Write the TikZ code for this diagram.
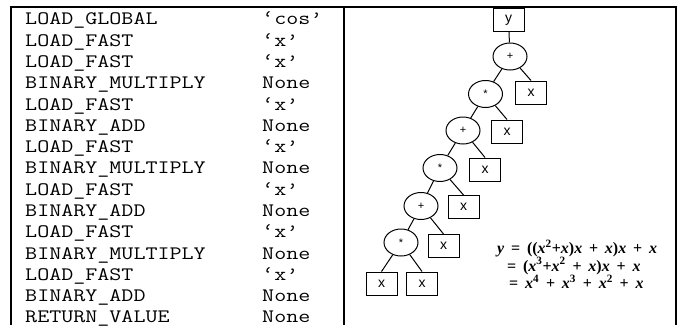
\documentclass[tikz,border=0pt]{standalone}
\usepackage{fontspec}
\newfontfamily\arialfont{Liberation Sans}
\newfontfamily\eqfont{Liberation Serif}[WordSpace=1.7]
\usetikzlibrary{shapes.geometric}
\newcommand{\vx}{\textit{x}}
\newcommand{\sq}[1]{\textsuperscript{#1}}
\begin{document}
\begin{tikzpicture}[x=1pt,y=-1pt,
  tableline/.style={line width=1.1pt},
  opnode/.style={ellipse, draw, line width=1pt, minimum width=34pt, minimum height=27pt, inner sep=0pt, font=\arialfont\fontsize{11}{11}\selectfont},
  leaf/.style={rectangle, draw, line width=1pt, minimum width=31pt, minimum height=23pt, inner sep=0pt, font=\arialfont\fontsize{14}{14}\selectfont},
  conn/.style={line width=1pt},
  codetext/.style={anchor=base west, inner sep=0pt, font=\ttfamily\fontsize{19}{19}\selectfont, transform shape},
  eqtext/.style={anchor=base west, inner sep=0pt, font=\eqfont\fontsize{16}{16}\selectfont\bfseries}
]
\useasboundingbox (0,0) rectangle (678,325);
% table frame
\draw[tableline] (11,325) -- (11,7) -- (676,7) -- (676,325);
\draw[tableline] (344,7) -- (344,325);
% code listing
\begin{scope}[xscale=1.23]
\node[codetext] (op1)  at (20.3,24.8)  {LOAD\_GLOBAL};
\node[codetext] (op2)  at (20.3,46.1)  {LOAD\_FAST};
\node[codetext] (op3)  at (20.3,67.4)  {LOAD\_FAST};
\node[codetext] (op4)  at (20.3,88.7)  {BINARY\_MULTIPLY};
\node[codetext] (op5)  at (20.3,110.0) {LOAD\_FAST};
\node[codetext] (op6)  at (20.3,131.3) {BINARY\_ADD};
\node[codetext] (op7)  at (20.3,152.6) {LOAD\_FAST};
\node[codetext] (op8)  at (20.3,173.9) {BINARY\_MULTIPLY};
\node[codetext] (op9)  at (20.3,195.2) {LOAD\_FAST};
\node[codetext] (op10) at (20.3,216.5) {BINARY\_ADD};
\node[codetext] (op11) at (20.3,237.8) {LOAD\_FAST};
\node[codetext] (op12) at (20.3,259.1) {BINARY\_MULTIPLY};
\node[codetext] (op13) at (20.3,280.4) {LOAD\_FAST};
\node[codetext] (op14) at (20.3,301.7) {BINARY\_ADD};
\node[codetext] (op15) at (20.3,322) {RETURN\_VALUE};
\node[codetext] (arg1)  at (213,24.8)  {‘cos’};
\node[codetext] (arg2)  at (213,46.1)  {‘x’};
\node[codetext] (arg3)  at (213,67.4)  {‘x’};
\node[codetext] (arg4)  at (213,88.7)  {None};
\node[codetext] (arg5)  at (213,110.0) {‘x’};
\node[codetext] (arg6)  at (213,131.3) {None};
\node[codetext] (arg7)  at (213,152.6) {‘x’};
\node[codetext] (arg8)  at (213,173.9) {None};
\node[codetext] (arg9)  at (213,195.2) {‘x’};
\node[codetext] (arg10) at (213,216.5) {None};
\node[codetext] (arg11) at (213,237.8) {‘x’};
\node[codetext] (arg12) at (213,259.1) {None};
\node[codetext] (arg13) at (213,280.4) {‘x’};
\node[codetext] (arg14) at (213,301.7) {None};
\node[codetext] (arg15) at (213,322) {None};
\end{scope}
% expression tree
\node[leaf]   (Y)  at (508.5,20)  {y};
\node[opnode] (P1) at (510,56.5)  {+};
\node[leaf]   (X1) at (531,92.5)  {x};
\node[opnode] (M1) at (485.5,94)  {*};
\node[leaf]   (X2) at (507,131.5) {x};
\node[opnode] (P2) at (463,130.5) {+};
\node[leaf]   (X3) at (485,169.5) {x};
\node[opnode] (M2) at (440,168)   {*};
\node[leaf]   (X4) at (463.5,207) {x};
\node[opnode] (P3) at (421,206)   {+};
\node[leaf]   (X5) at (443.5,246) {x};
\node[opnode] (M3) at (401,242.5) {*};
\node[leaf]   (X6) at (381.5,283.5) {x};
\node[leaf]   (X7) at (422,283.5) {x};
\draw[conn] (Y) -- (P1);
\draw[conn] (P1) -- (M1);
\draw[conn] (P1) -- (X1.north);
\draw[conn] (M1) -- (P2);
\draw[conn] (M1) -- (X2.north);
\draw[conn] (P2) -- (M2);
\draw[conn] (P2) -- (X3.north);
\draw[conn] (M2) -- (P3);
\draw[conn] (M2) -- (X4.north);
\draw[conn] (P3) -- (M3);
\draw[conn] (P3) -- (X5.north);
\draw[conn] (M3) -- (X6.north);
\draw[conn] (M3) -- (X7.north);
% equation
\node[eqtext] (eqa) at (497,253.5) {\textit{y} = ((\vx\sq{2}+\vx)\vx{} + \vx)\vx{} + \vx};
\node[eqtext] (eqb) at (507,271) {= (\vx\sq{3}+\vx\sq{2} + \vx)\vx{} + \vx};
\node[eqtext] (eqc) at (509,288.5) {= \vx\sq{4} + \vx\sq{3} + \vx\sq{2} + \vx};
\end{tikzpicture}
\end{document}
